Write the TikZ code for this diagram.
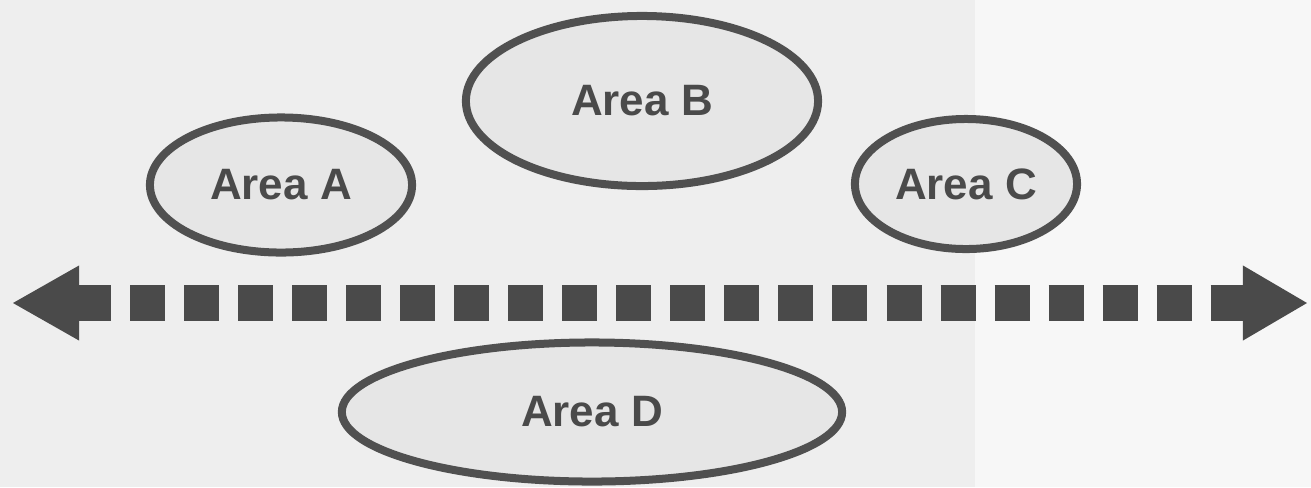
\documentclass[tikz,border=0pt]{standalone}
\usepackage{fontspec}
\setmainfont{Liberation Sans}
\usepackage{xcolor}
\usepackage{tikz}
\usetikzlibrary{arrows.meta,shapes.geometric}
\definecolor{areaink}{HTML}{4A4A4A}
\definecolor{arealine}{HTML}{505050}
\definecolor{areafill}{HTML}{E6E6E6}
\definecolor{areapaper}{HTML}{EEEEEE}
\tikzset{%
  areaoval/.style={%
    ellipse,
    draw=arealine,
    fill=areafill,
    line width=0.8mm,
    inner sep=0pt,
    text=areaink,
    font=\fontsize{12.5}{15}\selectfont\bfseries
  },
  areaarrow/.style={%
    {Triangle[length=6.6mm,width=7.5mm,line width=0pt]}-{Triangle[length=6.4mm,width=7.5mm,line width=0pt]},
    draw=areaink,
    line width=3.6mm,
    dash pattern=on 3.5mm off 1.9mm,
    dash phase=0.3mm
  }
}

\begin{document}
\begin{tikzpicture}[x=0.01cm,y=-0.01cm]
    \useasboundingbox (0,0) rectangle (1311,487);
    \fill[areapaper] (0,0) rectangle (975,487);
    \fill[areapaper!50!white] (975,0) rectangle (1311,487);

    \node[areaoval,minimum width=2.62cm,minimum height=1.35cm] (areaA) at (281,185) {Area A};
    \node[areaoval,minimum width=3.52cm,minimum height=1.70cm] (areaB) at (642,101) {Area B};
    \node[areaoval,minimum width=2.22cm,minimum height=1.30cm] (areaC) at (966,184) {Area C};
    \node[areaoval,minimum width=5.00cm,minimum height=1.39cm] (areaD) at (592,412) {Area D};

    \coordinate (west) at (13,303);
    \coordinate (east) at (1307,303);
    \draw[areaarrow] (west) -- (east);
  \end{tikzpicture}
\end{document}
